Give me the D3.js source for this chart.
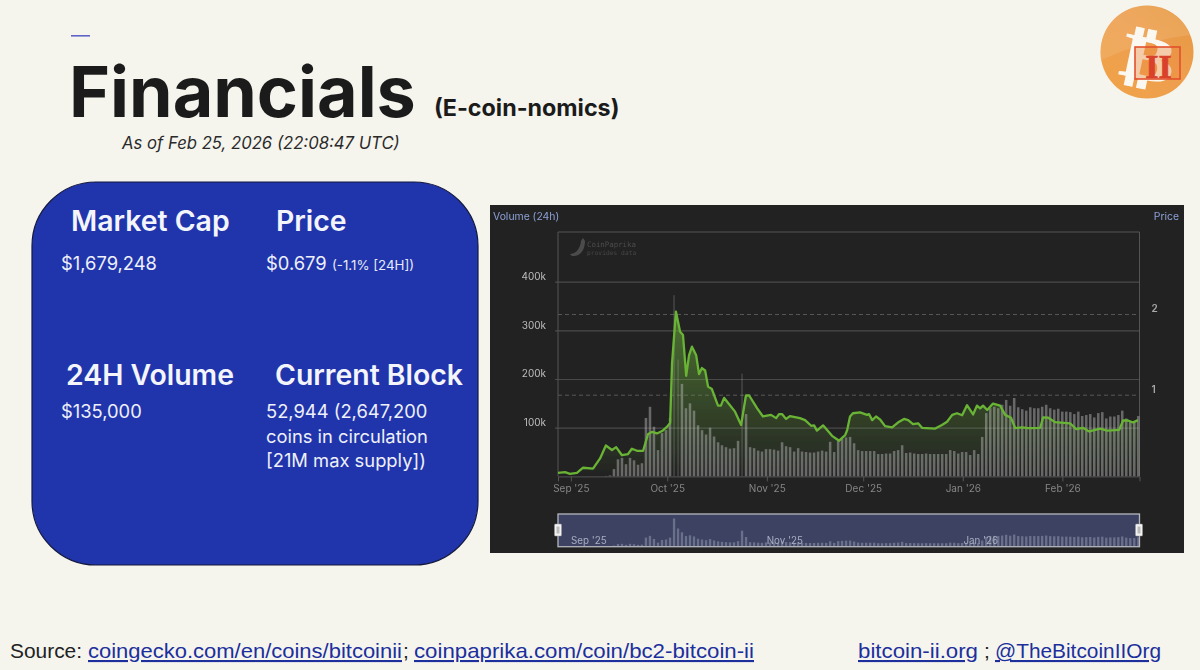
<!DOCTYPE html>
<html><head><meta charset="utf-8">
<script src="https://cdnjs.cloudflare.com/ajax/libs/d3/7.9.0/d3.min.js"></script>
<style>html,body{margin:0;padding:0;background:#f5f5ee;overflow:hidden}svg{display:block}text{font-family:Inter,sans-serif}</style>
</head><body><div id="c"></div>
<script>
// ---- data ----
const startDate = "2025-08-28";
const endDate = "2026-02-25";
const monthTicks = ["2025-09-01","2025-10-01","2025-11-01","2025-12-01","2026-01-01","2026-02-01"];
const monthLabels = ["Sep '25","Oct '25","Nov '25","Dec '25","Jan '26","Feb '26"];
const navTicks = ["2025-09-01","2025-11-01","2026-01-01"];
const navLabels = ["Sep '25","Nov '25","Jan '26"];
const volumeTicks = [100,200,300,400];
const priceTicks = [1,2];
const barStepHours = 29.9;
// 24h volume (thousands of USD), one bar per step
const volumeK = [0,0,0,0,0,0,0,0,0,0,0,0,1,2,15,35,38,25,38,33,24,27,120,143,102,54,89,95,
 120,372,240,190,140,150,135,105,95,86,100,82,70,64,60,57,58,73,211,128,60,58,53,51,56,56,55,53,
 70,62,60,51,58,51,50,49,49,51,53,51,71,50,73,77,80,81,68,54,52,52,52,52,46,46,47,47,52,54,64,48,
 49,47,46,46,47,46,46,46,46,46,54,52,47,50,50,44,54,46,81,130,140,143,140,147,157,145,161,142,138,
 135,142,140,140,143,147,140,137,139,133,133,132,128,133,124,126,128,121,130,132,119,123,123,126,135,119,112,114,124];
// price line: days since startDate, and USD
const priceDays = [0,2.2,3.7,5.9,7.8,10.9,13.1,14.9,16.8,18.1,19.9,21.8,23,24.6,26.5,28,29.3,30.8,32.4,33.9,34.9,35.5,36.7,38,38.9,39.9,40.8,41.7,43,43.9,44.8,45.8,46.7,47.9,49.8,50.7,51.7,52.9,55.1,57,58.5,59.5,62,63.8,66.3,67.9,68.8,69.7,71,72.2,75.3,76.9,78.8,79.7,80.6,82.5,85.3,87.5,89.4,90,90.9,91.8,94,96.2,96.8,97.8,99,100.2,101.8,104,105.8,107.7,109,110.5,112.1,113.3,117.4,119.5,121.1,122.7,124.2,125.8,127.3,129.2,130.4,131.4,132.3,133.6,135.4,137.6,139.2,141,142.3,144.5,146.3,150.1,151,152.6,154.7,159.4,161.3,163.4,165.3,168.8,170.9,174.7,175.9,177.4,179,180.5];
const priceUsd = [.03,.04,.02,.03,.095,.085,.21,.37,.315,.35,.25,.265,.33,.305,.305,.51,.54,.52,.55,.6,.65,1.39,2.03,1.78,1.74,1.235,1.49,1.595,1.49,1.255,1.33,1.30,1.10,1.07,.865,.865,.96,.90,.79,.625,.99,.99,.83,.73,.75,.71,.76,.76,.70,.735,.71,.685,.615,.62,.555,.62,.49,.43,.5,.56,.73,.77,.78,.75,.76,.685,.73,.695,.61,.595,.655,.70,.685,.635,.645,.59,.58,.625,.665,.75,.77,.745,.87,.755,.865,.83,.865,.81,.89,.865,.75,.715,.585,.595,.585,.59,.72,.715,.66,.645,.575,.59,.545,.58,.555,.565,.68,.68,.655,.685];
const cards = [
 {head:"Market Cap", hx:71, hy:231, lines:["$1,679,248"], lx:61, ly:270},
 {head:"Price", hx:276, hy:231, lines:["$0.679"], lx:266, ly:270},
 {head:"24H Volume", hx:66, hy:385, lines:["$135,000"], lx:61, ly:418},
 {head:"Current Block", hx:275, hy:385, lines:["52,944 (2,647,200","coins in circulation","[21M max supply])"], lx:266, ly:418}
];
const links = [
 {t:"coingecko.com/en/coins/bitcoinii", x:88, w:314},
 {t:"coinpaprika.com/coin/bc2-bitcoin-ii", x:414, w:340},
 {t:"bitcoin-ii.org", x:858, w:120},
 {t:"@TheBitcoinIIOrg", x:995, w:166}
];
// ---- drawing ----
const svg = d3.select("#c").append("svg").attr("width",1200).attr("height",670);
const defs = svg.append("defs");
svg.append("rect").attr("width",1200).attr("height",670).attr("fill","#f5f5ee");

// header
svg.append("rect").attr("x",71).attr("y",35).attr("width",19).attr("height",1.6).attr("fill","#5f64c8");
svg.append("text").attr("x",69).attr("y",117).attr("font-size",70).attr("font-weight",700).attr("fill","#1b1b1b").text("Financials");
svg.append("text").attr("x",434).attr("y",116).attr("font-size",23.3).attr("font-weight",700).attr("fill","#1b1b1b").text("(E-coin-nomics)");
svg.append("text").attr("x",122).attr("y",149).attr("font-size",16.7).attr("font-style","italic").attr("fill","#2a2a2a").text("As of Feb 25, 2026 (22:08:47 UTC)");

// blue card
svg.append("rect").attr("x",32).attr("y",182).attr("width",446).attr("height",383).attr("rx",64)
  .attr("fill","#2035ab").attr("stroke","#14193f").attr("stroke-width",1.2);
cards.forEach(c=>{
  svg.append("text").attr("x",c.hx).attr("y",c.hy).attr("font-size",28.4).attr("font-weight",600).attr("fill","#f4f5fb").text(c.head);
  c.lines.forEach((l,i)=>svg.append("text").attr("x",c.lx).attr("y",c.ly+i*24.7).attr("font-size",18.35).attr("fill","#eef0fa").text(l));
});
svg.append("text").attr("x",332).attr("y",270).attr("font-size",13.3).attr("fill","#e6e9f8").text("(-1.1% [24H])");

// dark chart panel
defs.append("filter").attr("id","soft").attr("x",0).attr("y",0).attr("width",1).attr("height",1)
  .append("feGaussianBlur").attr("stdDeviation",0.45);
const g = svg.append("g").attr("filter","url(#soft)");
g.append("rect").attr("x",490).attr("y",205).attr("width",694).attr("height",348).attr("fill","#232323");

const parse = d3.utcParse("%Y-%m-%d");
const t0 = parse(startDate);
const x = d3.scaleUtc().domain([t0,parse(endDate)]).range([558,1139.5]);
const yV = d3.scaleLinear().domain([0,500]).range([476.4,232.9]);
const yP = d3.scaleLinear().domain([0,3]).range([475.4,233.3]);
const barDate = i=>d3.utcHour.offset(t0,i*barStepHours);
const lineDate = d=>d3.utcMinute.offset(t0,d*1440);

// grid + y axes
const axV = g.append("g").attr("transform","translate(558,0)")
  .call(d3.axisLeft(yV).tickValues(volumeTicks).tickFormat(d=>d+"k").tickSize(3).tickPadding(9));
axV.select(".domain").remove();
axV.selectAll("line").attr("x1",-3).attr("x2",581.5).attr("stroke","#4a4a4a").attr("stroke-width",1.2);
axV.selectAll("text").attr("dy",-2.2).attr("fill","#bcbcbc").attr("font-size",10);
const axP = g.append("g").attr("transform","translate(1139.5,0)")
  .call(d3.axisRight(yP).tickValues(priceTicks).tickFormat(d3.format("d")).tickSize(0).tickPadding(12));
axP.select(".domain").remove();
axP.selectAll("line").attr("x1",-581.5).attr("x2",0).attr("stroke","#575757").attr("stroke-dasharray","4 3");
axP.selectAll("text").attr("dy",-2.2).attr("fill","#a8a8a8").attr("font-size",10).attr("font-weight",600);
// frame
g.append("path").attr("d",d3.line()([[558,476.4],[558,232],[1139.5,232],[1139.5,476.4]])).attr("fill","none").attr("stroke","#555").attr("stroke-width",1);

// price area
const grad = defs.append("linearGradient").attr("id","pa").attr("gradientUnits","userSpaceOnUse")
  .attr("x1",0).attr("x2",0).attr("y1",yP(2.03)).attr("y2",yP(0));
grad.append("stop").attr("offset",0).attr("stop-color","#6fb63c").attr("stop-opacity",0.55);
grad.append("stop").attr("offset",1).attr("stop-color","#6fb63c").attr("stop-opacity",0);
const pts = priceDays.map((d,i)=>[lineDate(d),priceUsd[i]]);
g.append("path").attr("fill","url(#pa)")
  .attr("d",d3.area().x(d=>x(d[0])).y0(yP(0)).y1(d=>yP(d[1]))(pts));

// volume bars
g.append("g").selectAll("rect").data(volumeK).join("rect")
  .attr("x",(d,i)=>x(barDate(i))-(d>200?0.7:1.25)).attr("width",d=>d>200?1.4:2.5)
  .attr("y",d=>yV(d)).attr("height",d=>yV(0)-yV(d))
  .attr("fill","#c8c8c8").attr("fill-opacity",d=>d>200?0.22:0.42);

// price line
g.append("path").attr("fill","none").attr("stroke","#69b436").attr("stroke-width",2.3)
  .attr("stroke-linejoin","round")
  .attr("d",d3.line().x(d=>x(d[0])).y(d=>yP(d[1]))(pts));

// baseline + x axis
const axX = g.append("g").attr("transform","translate(0,476.4)")
  .call(d3.axisBottom(x).tickValues(monthTicks.map(parse)).tickFormat((d,i)=>monthLabels[i]).tickSize(5).tickPadding(4));
axX.select(".domain").attr("stroke","#555");
axX.selectAll("line").attr("stroke","#555");
axX.selectAll("text").attr("fill","#858585").attr("font-size",10);

// titles
g.append("text").attr("x",493).attr("y",220).attr("font-size",10.4).attr("fill","#8ba0d6").text("Volume (24h)");
g.append("text").attr("x",1179).attr("y",220).attr("text-anchor","end").attr("font-size",10.4).attr("fill","#8ba0d6").text("Price");

// watermark
g.append("path").attr("d","M570 254 C575 254 580 250 581 241 L583 238 L585 241 C585 250 580 257 572 256 Z").attr("fill","#4c4c4c");
g.append("text").attr("x",587).attr("y",247).attr("font-size",7.4).attr("style","font-family:'DejaVu Sans Mono',monospace").attr("fill","#4c4c4c").text("CoinPaprika");
g.append("text").attr("x",587).attr("y",254.5).attr("font-size",6.3).attr("style","font-family:'DejaVu Sans Mono',monospace").attr("fill","#454545").text("provides data");

// navigator
const yN = d3.scaleLinear().domain([0,372]).range([546.7,518.5]);
g.append("rect").attr("x",558).attr("y",514).attr("width",581.5).attr("height",32.7).attr("fill","#3c4362");
g.append("g").selectAll("rect").data(volumeK).join("rect")
  .attr("x",(d,i)=>x(barDate(i))-1.15).attr("width",2.3)
  .attr("y",d=>yN(d)).attr("height",d=>yN(0)-yN(d)).attr("fill","#8a8fa6").attr("fill-opacity",0.6);
g.selectAll(".nl").data(navTicks).join("text").attr("class","nl")
  .attr("x",d=>x(parse(d))+18).attr("y",543.5).attr("text-anchor","middle").attr("font-size",9.8).attr("fill","#a9aec2")
  .text((d,i)=>navLabels[i]);
g.append("rect").attr("x",558).attr("y",514).attr("width",581.5).attr("height",32.7).attr("fill","none").attr("stroke","#b4b6bc").attr("stroke-width",1.3);
[558,1139].forEach(hx=>{
  g.append("rect").attr("x",hx-3.5).attr("y",524).attr("width",7).attr("height",12).attr("rx",1).attr("fill","#f2f2f2").attr("stroke","#999").attr("stroke-width",.5);
  g.append("rect").attr("x",hx-1.5).attr("y",526.5).attr("width",3).attr("height",7).attr("fill","#bbb");
});

// footer
const fy = 658, fs = 21;
const foot = (t,xp,fill,under,w)=>{
  const s = svg.append("text").attr("x",xp).attr("y",fy)
  .attr("style","font-family:'Liberation Sans',Arial,sans-serif").attr("font-size",fs).attr("fill",fill)
  .attr("text-decoration",under?"underline":null).text(t);
  if(w) s.attr("textLength",w).attr("lengthAdjust","spacingAndGlyphs");
};
foot("Source:",10,"#222",false,72);
links.forEach(l=>foot(l.t,l.x,"#1c2f9c",true,l.w));
foot(";",403,"#222",false);
foot(";",984,"#222",false);

// logo
const lg = defs.append("linearGradient").attr("id","logo").attr("x1",0.85).attr("y1",0.15).attr("x2",0.2).attr("y2",0.9);
lg.append("stop").attr("offset",0).attr("stop-color","#e89a45");
lg.append("stop").attr("offset",.45).attr("stop-color","#ee9e4e");
lg.append("stop").attr("offset",1).attr("stop-color","#f0a24a");
svg.append("circle").attr("cx",1147).attr("cy",52).attr("r",46.5).attr("fill","url(#logo)");
svg.append("path").attr("d","M1101 60 A46.5 46.5 0 0 1 1190 35 Q1145 40 1101 60Z").attr("fill","#f4c795").attr("fill-opacity",.25);
svg.append("text").attr("transform","translate(1144,79) rotate(12) scale(1.3,1)").attr("text-anchor","middle")
  .attr("font-size",62).attr("font-weight",700).attr("style","font-family:'DejaVu Sans'").attr("fill","#fbf8f1").attr("stroke","#fbf8f1").attr("stroke-width",1).text("\u20BF");
svg.append("rect").attr("x",1135).attr("y",47).attr("width",45).attr("height",32).attr("fill","#ea8a42").attr("fill-opacity",.4).attr("stroke","#e2502b").attr("stroke-width",1.6);
svg.append("text").attr("x",1158.5).attr("y",78).attr("text-anchor","middle").attr("font-size",34).attr("font-weight",700)
  .attr("style","font-family:'Liberation Serif',serif").attr("fill","#d9412a").attr("stroke","#d9412a").attr("stroke-width",.7).text("II");
</script></body></html>
